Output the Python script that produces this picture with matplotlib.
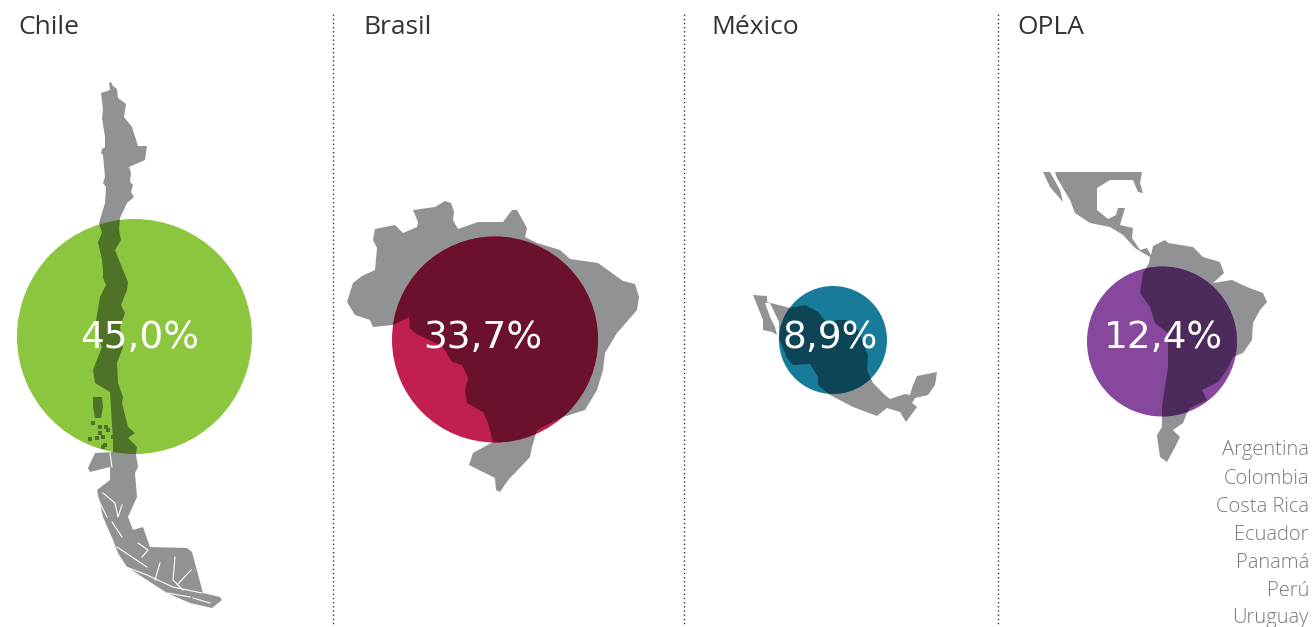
import matplotlib
matplotlib.use("Agg")
import matplotlib.pyplot as plt
from matplotlib.patches import Circle, Polygon

# chart data
countries = ["Chile", "Brasil", "México", "OPLA"]
shares = [45.0, 33.7, 8.9, 12.4]
opla_members = ["Argentina", "Colombia", "Costa Rica", "Ecuador", "Panamá", "Perú", "Uruguay"]

# layout, in reference pixels
title_x = [18, 363, 711, 1017]
separator_x = [333, 684, 998]
circle_x = [134.5, 495, 833, 1162]
circle_y = [336.5, 339.5, 340, 341.5]
circle_r = [117.5, 103, 54, 75]
label_x = [140, 483, 830, 1163]
circle_colors = ["#8cc63f", "#c01f50", "#177b99", "#86479c"]
dark_colors = ["#4e7227", "#6b112c", "#0d4557", "#4c2a5c"]
GREY = "#909294"

# map outlines
chile_map = [(111, 82), (113, 86), (117, 89), (118, 98), (126, 104), (124, 117), (132, 127), (138, 146),
             (147, 146), (145, 160), (129, 167), (131, 173), (130, 182), (133, 185), (131, 192), (134, 197),
             (127, 203), (120, 218), (119, 230), (121, 240), (115, 250), (123, 270), (128, 282), (127, 290),
             (121, 305), (125, 313), (120, 327), (123, 347), (117, 363), (118, 383), (123, 397), (122, 403),
             (128, 427), (135, 433), (128, 438), (137, 447), (136, 455), (138, 467), (135, 473), (137, 497),
             (128, 517), (133, 530), (143, 527), (150, 547), (187, 548), (192, 552), (203, 593), (220, 597),
             (222, 600), (212, 608), (190, 603), (167, 593), (127, 567), (118, 553), (113, 540), (103, 517),
             (97, 490), (110, 480), (110, 467), (90, 472), (88, 468), (95, 453), (113, 452), (113, 440),
             (112, 425), (110, 392), (95, 383), (93, 370), (98, 357), (102, 347), (95, 327), (100, 297),
             (106, 285), (103, 278), (103, 270), (102, 260), (98, 242), (102, 233), (99, 223), (105, 203),
             (106, 187), (103, 183), (105, 177), (103, 155), (101, 153), (102, 149), (105, 147), (105, 137),
             (102, 118), (103, 110), (101, 93), (110, 90), (109, 83)]
chiloe = [(93, 397), (102, 397), (103, 407), (101, 418), (95, 418), (93, 407)]
chile_specks_x = [93, 100, 106, 100, 90, 97, 103, 105, 108, 103, 113]
chile_specks_y = [423, 427, 427, 433, 439, 438, 437, 445, 430, 447, 437]
chile_fjords = [[(126, 567), (147, 575), (173, 587), (202, 593)],
                [(175, 557), (173, 580), (183, 590)],
                [(191, 570), (177, 585)],
                [(160, 563), (155, 580)],
                [(138, 543), (148, 550), (142, 557)],
                [(117, 547), (132, 557), (147, 567)],
                [(112, 522), (122, 537)],
                [(103, 493), (115, 503), (118, 517), (122, 505)],
                [(97, 497), (107, 517)],
                [(110, 453), (112, 467)],
                [(167, 593), (190, 597)],
                [(193, 598), (210, 603)]]
brasil_map = [(413, 210), (435, 207), (445, 201), (451, 203), (454, 212), (453, 220), (458, 229), (478, 222),
              (503, 222), (512, 210), (517, 210), (527, 228), (525, 237), (537, 243), (560, 250), (570, 259),
              (598, 263), (623, 281), (635, 284), (639, 297), (637, 310), (617, 333), (605, 353), (603, 370),
              (597, 390), (585, 410), (563, 417), (537, 430), (532, 447), (530, 457), (515, 473), (510, 478),
              (506, 483), (500, 492), (496, 490), (495, 478), (469, 465), (473, 453), (493, 442), (488, 423),
              (483, 412), (467, 403), (465, 390), (468, 378), (462, 365), (452, 362), (443, 347), (415, 333),
              (410, 328), (409, 317), (393, 325), (373, 327), (370, 320), (355, 315), (347, 302), (353, 283),
              (362, 276), (375, 270), (377, 248), (373, 240), (375, 229), (395, 225), (403, 233), (417, 227),
              (418, 222)]
mexico_map = [(753, 295), (767, 296), (767, 302), (790, 308), (805, 305), (818, 312), (827, 323), (837, 320),
              (847, 320), (858, 330), (868, 355), (867, 370), (873, 383), (885, 395), (890, 399), (905, 394),
              (910, 395), (913, 385), (917, 376), (937, 372), (935, 385), (928, 395), (915, 398), (912, 403),
              (917, 407), (906, 422), (900, 412), (887, 408), (877, 416), (853, 407), (830, 395), (818, 385),
              (818, 377), (810, 364), (793, 365), (787, 358), (779, 338), (779, 322), (770, 303), (765, 303),
              (770, 317), (775, 327), (777, 335), (772, 332), (763, 330), (763, 320)]
opla_map = [(1043, 172), (1050, 187), (1063, 202), (1060, 190), (1050, 172), (1142, 172), (1140, 183), (1143, 193),
            (1138, 192), (1133, 180), (1110, 180), (1097, 188), (1097, 210), (1108, 219), (1116, 215), (1118, 208),
            (1125, 208), (1120, 225), (1133, 228), (1132, 238), (1140, 250), (1147, 248), (1151, 255), (1153, 246),
            (1165, 240), (1168, 243), (1193, 247), (1203, 257), (1220, 262), (1224, 273), (1213, 283), (1232, 280),
            (1247, 287), (1263, 293), (1267, 302), (1260, 310), (1253, 323), (1252, 340), (1243, 353), (1233, 357),
            (1227, 370), (1218, 382), (1202, 390), (1207, 400), (1190, 408), (1187, 413), (1183, 423), (1173, 430),
            (1180, 437), (1175, 447), (1167, 462), (1160, 457), (1158, 443), (1157, 435), (1162, 427), (1162, 407),
            (1168, 367), (1168, 333), (1155, 323), (1150, 307), (1140, 293), (1143, 273), (1149, 263), (1150, 257),
            (1143, 253), (1135, 248), (1123, 235), (1110, 227), (1090, 223), (1075, 213), (1070, 200), (1057, 178),
            (1055, 172)]
maps = [[chile_map, chiloe], [brasil_map], [mexico_map], [opla_map]]

fig = plt.figure(figsize=(13.13, 6.27), dpi=100)
ax = fig.add_axes([0, 0, 1, 1])
ax.set_xlim(0, 1313)
ax.set_ylim(627, 0)
ax.axis("off")

# dotted separators
for x in separator_x:
    ax.plot([x, x], [14, 627], color="#333333", lw=1.0, ls=(0, (1, 2)))

for i in range(len(countries)):
    ax.text(title_x[i], 28, countries[i], family="Open Sans", fontsize=19, color="#333333", ha="left", va="center")

    # grey map, coloured circle, then the map again in dark inside the circle
    for outline in maps[i]:
        ax.add_patch(Polygon(outline, closed=True, fc=GREY, ec="none", zorder=2))
    circle = Circle((circle_x[i], circle_y[i]), circle_r[i], fc=circle_colors[i], ec="none", zorder=3)
    ax.add_patch(circle)
    for outline in maps[i]:
        dark = Polygon(outline, closed=True, fc=dark_colors[i], ec="none", zorder=4)
        ax.add_patch(dark)
        dark.set_clip_path(circle)

    label = f"{shares[i]:.1f}%".replace(".", ",")
    ax.text(label_x[i], 338, label, family="DejaVu Sans", fontsize=27, color="white", ha="center", va="center",
            zorder=6)

specks = ax.scatter(chile_specks_x, chile_specks_y, s=7, marker="s", color=dark_colors[0], linewidths=0, zorder=4)
for fjord in chile_fjords:
    ax.plot([p[0] for p in fjord], [p[1] for p in fjord], color="white", lw=0.8, zorder=5)

# countries grouped under OPLA
for i, name in enumerate(opla_members):
    ax.text(1309, 450.5 + i * 28, name, family="Open Sans", fontweight="light", fontsize=14.5, color="#76787b",
            ha="right", va="center")

fig.savefig("out.png", dpi=100)
